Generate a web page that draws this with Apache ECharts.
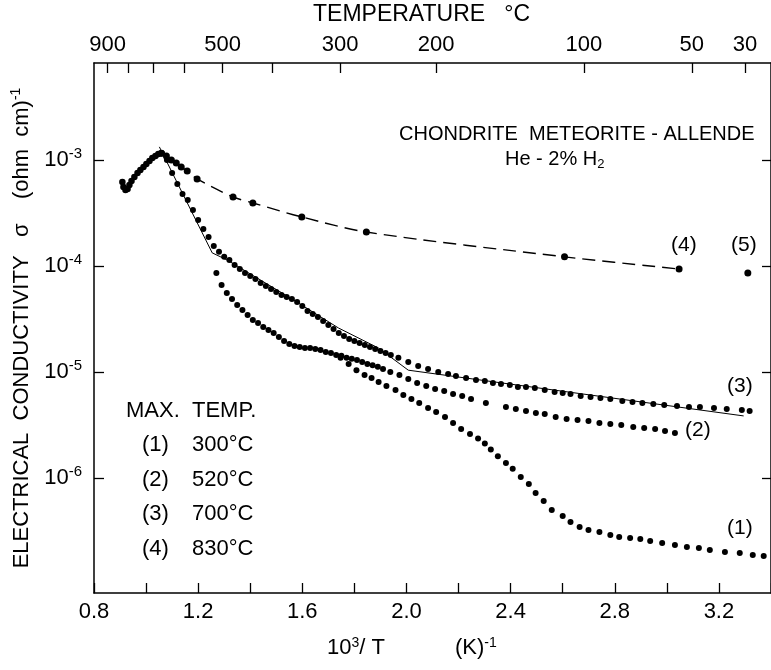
<!DOCTYPE html>
<html><head><meta charset="utf-8">
<script src="https://cdn.jsdelivr.net/npm/echarts@6/dist/echarts.min.js"></script>
<style>html,body{margin:0;padding:0;background:#fff}#c{width:771px;height:670px}</style>
</head><body><div id="c"></div>
<script>
// ---- axis ticks / labels ----
const xLabelValues = [0.8, 1.2, 1.6, 2.0, 2.4, 2.8, 3.2];
const tempTickValues = [900, 800, 700, 600, 500, 400, 300, 200, 100, 50, 30];
const tempLabelValues = [900, 500, 300, 200, 100, 50, 30];
const yDecades = [1e-6, 1e-5, 1e-4, 1e-3];
const legendCodes = ["(1)", "(2)", "(3)", "(4)"];
const legendTemps = ["300°C", "520°C", "700°C", "830°C"];

// ---- data: [10^3/T (K^-1), sigma (ohm cm)^-1] ----
const run4Heating = [
  [0.909,6.19e-4],[0.913,5.56e-4],[0.921,5.21e-4],[0.929,5.32e-4],[0.936,5.81e-4],[0.944,6.34e-4],
  [0.955,6.92e-4],[0.967,7.54e-4],[0.978,8.05e-4],[0.990,8.59e-4],[1.001,9.17e-4],[1.013,9.79e-4],
  [1.024,1.045e-3],[1.036,1.09e-3],[1.047,1.14e-3],[1.059,1.16e-3]
];
const run4Cooling = [
  [1.059,1.16e-3],[1.078,1.09e-3],[1.097,1.00e-3],[1.116,9.37e-4],[1.135,8.59e-4],[1.158,7.87e-4],
  [1.196,6.62e-4],[1.334,4.48e-4],[1.410,3.93e-4],[1.598,2.90e-4],[1.846,2.09e-4],[2.607,1.22e-4],
  [3.047,9.37e-5]
];
const run5 = [[3.311,8.59e-5]];
const run3 = [
  [1.06,1.16e-3],[1.08,1.00e-3],[1.10,7.54e-4],[1.12,5.94e-4],[1.14,4.78e-4],[1.16,4.19e-4],
  [1.18,3.38e-4],[1.20,2.72e-4],[1.22,2.23e-4],[1.24,1.88e-4],[1.26,1.54e-4],[1.28,1.36e-4],
  [1.30,1.22e-4],[1.32,1.14e-4],[1.34,1.02e-4],[1.36,9.37e-5],[1.38,8.59e-5],[1.40,8.05e-5],
  [1.42,7.54e-5],[1.44,6.91e-5],[1.46,6.48e-5],[1.48,6.07e-5],[1.50,5.68e-5],[1.52,5.32e-5],
  [1.54,5.10e-5],[1.56,4.88e-5],[1.58,4.58e-5],[1.60,4.19e-5],[1.62,3.76e-5],[1.64,3.53e-5],
  [1.66,3.30e-5],[1.68,3.03e-5],[1.70,2.78e-5],[1.72,2.54e-5],[1.74,2.33e-5],[1.76,2.19e-5],
  [1.78,2.05e-5],[1.80,1.96e-5],[1.82,1.88e-5],[1.84,1.80e-5],[1.86,1.72e-5],[1.88,1.65e-5],
  [1.90,1.58e-5],[1.92,1.51e-5],[1.94,1.45e-5],
  [1.969,1.36e-5],[2.007,1.24e-5],[2.045,1.14e-5],[2.083,1.07e-5],[2.122,1.00e-5],[2.160,9.57e-6],
  [2.190,9.17e-6],[2.229,8.78e-6],[2.267,8.40e-6],[2.301,8.23e-6],[2.332,7.88e-6],[2.363,7.70e-6],
  [2.397,7.54e-6],[2.428,7.22e-6],[2.459,7.22e-6],[2.493,7.07e-6],[2.531,6.77e-6],[2.569,6.48e-6],
  [2.600,6.34e-6],[2.630,6.20e-6],[2.669,5.94e-6],[2.707,5.81e-6],[2.745,5.68e-6],[2.783,5.56e-6],
  [2.829,5.32e-6],[2.868,5.21e-6],[2.906,5.10e-6],[2.948,4.99e-6],[2.990,4.88e-6],[3.039,4.78e-6],
  [3.085,4.68e-6],[3.127,4.68e-6],[3.181,4.58e-6],[3.230,4.48e-6],[3.288,4.38e-6],[3.318,4.29e-6]
];
const run3Fit = [
  [1.051,1.33e-3],[1.254,1.33e-4],[1.311,1.14e-4],[1.548,5.10e-5],[1.739,2.60e-5],
  [1.893,1.68e-5],[2.007,1.04e-5],[3.295,3.85e-6]
];
const run2 = [
  [1.27,8.59e-5],[1.29,6.62e-5],[1.31,5.56e-5],[1.33,4.88e-5],[1.35,4.29e-5],[1.37,3.85e-5],
  [1.39,3.45e-5],[1.41,3.09e-5],[1.43,2.90e-5],[1.45,2.66e-5],[1.47,2.49e-5],[1.49,2.33e-5],
  [1.51,2.14e-5],[1.53,1.96e-5],[1.55,1.84e-5],[1.57,1.76e-5],[1.59,1.72e-5],[1.61,1.68e-5],
  [1.63,1.68e-5],[1.65,1.65e-5],[1.67,1.61e-5],[1.69,1.54e-5],[1.71,1.51e-5],[1.73,1.45e-5],
  [1.75,1.42e-5],[1.77,1.36e-5],[1.79,1.33e-5],[1.81,1.30e-5],[1.83,1.24e-5],[1.85,1.19e-5],
  [1.87,1.16e-5],[1.89,1.12e-5],[1.91,1.07e-5],
  [1.938,1.00e-5],[1.973,9.37e-6],[2.007,8.59e-6],[2.041,7.88e-6],[2.076,7.38e-6],[2.110,6.91e-6],
  [2.145,6.62e-6],[2.179,6.20e-6],[2.214,5.94e-6],[2.248,5.56e-6],[2.305,5.10e-6],
  [2.382,4.68e-6],[2.420,4.48e-6],[2.459,4.29e-6],[2.497,4.10e-6],[2.531,4.02e-6],[2.573,3.76e-6],
  [2.615,3.60e-6],[2.657,3.53e-6],[2.699,3.45e-6],[2.741,3.30e-6],[2.783,3.23e-6],[2.825,3.16e-6],
  [2.871,3.03e-6],[2.913,2.96e-6],[2.955,2.90e-6],[2.993,2.78e-6],[3.031,2.66e-6]
];
const run1 = [
  [1.747,1.36e-5],[1.778,1.19e-5],[1.808,1.04e-5],[1.839,9.37e-6],[1.866,8.78e-6],[1.893,8.05e-6],
  [1.923,7.38e-6],[1.958,6.77e-6],[1.988,6.07e-6],[2.019,5.56e-6],[2.049,5.10e-6],[2.083,4.58e-6],
  [2.114,4.19e-6],[2.148,3.76e-6],[2.179,3.30e-6],[2.210,2.90e-6],[2.244,2.60e-6],[2.275,2.36e-6],
  [2.301,2.12e-6],[2.324,1.86e-6],[2.351,1.60e-6],[2.382,1.385e-6],[2.408,1.22e-6],[2.439,1.02e-6],
  [2.470,8.78e-7],[2.496,7.22e-7],[2.527,6.07e-7],[2.558,4.99e-7],[2.600,4.38e-7],[2.630,3.85e-7],
  [2.665,3.45e-7],[2.699,3.23e-7],[2.741,3.09e-7],[2.783,2.90e-7],[2.817,2.78e-7],[2.859,2.72e-7],
  [2.898,2.66e-7],[2.936,2.54e-7],[2.982,2.44e-7],[3.031,2.33e-7],[3.077,2.23e-7],[3.123,2.19e-7],
  [3.165,2.09e-7],[3.223,2.00e-7],[3.280,1.96e-7],[3.330,1.88e-7],[3.372,1.84e-7]
];

const INK = '#000';
const FONT = 'Liberation Sans, Arial, sans-serif';
const chart = echarts.init(document.getElementById('c'), null, {renderer: 'canvas'});

function txt(left, top, text, size) {
  return {type: 'text', left: left, top: top, style: {text: text, fill: INK, font: size + 'px ' + FONT}};
}
const supStyle = (size, pad) => ({fontSize: size, fontFamily: FONT, fill: INK, color: INK, verticalAlign: 'top', padding: [0, 0, pad, 0]});
const baseStyle = size => ({fontSize: size, fontFamily: FONT, fill: INK, color: INK});

const graphics = [
  {type:'text', left: 313, top: 3, style:{text:'TEMPERATURE   °C', fill: INK, font: '23px ' + FONT}},
  {type:'text', left: 327, top: 636, style:{text:'{b|10}{s|3}{b|/ T}', fill: INK, font: '22px '+FONT,
     rich:{b: baseStyle(22), s: supStyle(14, 10)}}},
  {type:'text', left: 455, top: 636, style:{text:'{b|(K)}{s|-1}', fill: INK, font: '22px '+FONT,
     rich:{b: baseStyle(22), s: supStyle(14, 10)}}},
  txt(399, 124, 'CHONDRITE  METEORITE - ALLENDE', 20),
  {type:'text', left: 505, top: 149, style:{text:'{b|He - 2% H}{s|2}', fill: INK, font:'19px '+FONT,
     rich:{b: baseStyle(20), s:{fontSize: 13, fontFamily: FONT, fill: INK, padding: [10, 0, 0, 0]}}}},
  txt(126, 400, 'MAX.  TEMP.', 22),
  txt(671, 235, '(4)', 21), txt(731, 235, '(5)', 21), txt(727, 376, '(3)', 21),
  txt(685, 420, '(2)', 21), txt(727, 518, '(1)', 21)
];
legendCodes.forEach((c, i) => {
  graphics.push(txt(142, 434 + i * 34.7, c, 22));
  graphics.push(txt(192, 434 + i * 34.7, legendTemps[i], 22));
});

const dot = (data, size) => ({type: 'scatter', data: data, symbolSize: size, itemStyle: {color: INK, opacity: 1}, silent: true});

chart.setOption({
  backgroundColor: '#fff',
  animation: false,
  grid: {left: 94, top: 63, width: 680, height: 530},
  xAxis: [{
    type: 'value', position: 'bottom', min: 0.8, max: 3.4, interval: 0.2,
    axisLine: {lineStyle: {color: INK, width: 1.5}},
    axisTick: {inside: true, length: 10, lineStyle: {color: INK, width: 1.3}},
    axisLabel: {customValues: xLabelValues, formatter: v => v.toFixed(1), fontSize: 22, color: INK, fontFamily: FONT, margin: 8},
    splitLine: {show: false}
  }, {
    type: 'value', position: 'top', min: 0.8, max: 3.4,
    axisLine: {lineStyle: {color: INK, width: 1.5}},
    axisTick: {inside: true, length: 10, customValues: tempTickValues.map(t => 1000 / (t + 273)), lineStyle: {color: INK, width: 1.3}},
    axisLabel: {customValues: tempLabelValues.map(t => 1000 / (t + 273)), formatter: v => String(Math.round(1000 / v - 273)), fontSize: 22, color: INK, fontFamily: FONT, margin: 7},
    splitLine: {show: false}
  }],
  yAxis: [{
    type: 'log', logBase: 10, min: Math.pow(10, -7.085), max: Math.pow(10, -2.085), position: 'left',
    axisLine: {show: true, lineStyle: {color: INK, width: 1.5}},
    axisTick: {inside: true, length: 10, customValues: yDecades, lineStyle: {color: INK, width: 1.3}},
    axisLabel: {customValues: yDecades, margin: 12, color: INK,
      formatter: v => '{b|10}{s|' + Math.round(Math.log10(v)) + '}',
      rich: {b: baseStyle(22), s: supStyle(15, 13)}},
    splitLine: {show: false},
    name: 'ELECTRICAL  CONDUCTIVITY   σ    (ohm  cm){s|-1}', nameLocation: 'middle', nameGap: 60, nameRotate: 90,
    nameTextStyle: {fontSize: 22, fontFamily: FONT, color: INK, rich: {s: supStyle(14, 11)}}
  }, {
    type: 'log', logBase: 10, min: Math.pow(10, -7.085), max: Math.pow(10, -2.085), position: 'right',
    axisLine: {show: true, lineStyle: {color: INK, width: 1.5}},
    axisTick: {inside: true, length: 9, customValues: yDecades, lineStyle: {color: INK, width: 1.3}},
    axisLabel: {show: false}, splitLine: {show: false}
  }],
  graphic: graphics,
  series: [
    {type: 'line', data: run4Cooling, symbol: 'none', smooth: 0.3, lineStyle: {color: INK, width: 1.4, type: [13, 7]}, silent: true},
    {type: 'line', data: run3Fit, symbol: 'none', lineStyle: {color: INK, width: 1}, silent: true},
    dot(run4Heating, 6.5),
    dot(run4Cooling, 7),
    dot(run5, 7),
    dot(run3, 6),
    dot(run2, 6),
    dot(run1, 6)
  ]
});
</script>
</body></html>
